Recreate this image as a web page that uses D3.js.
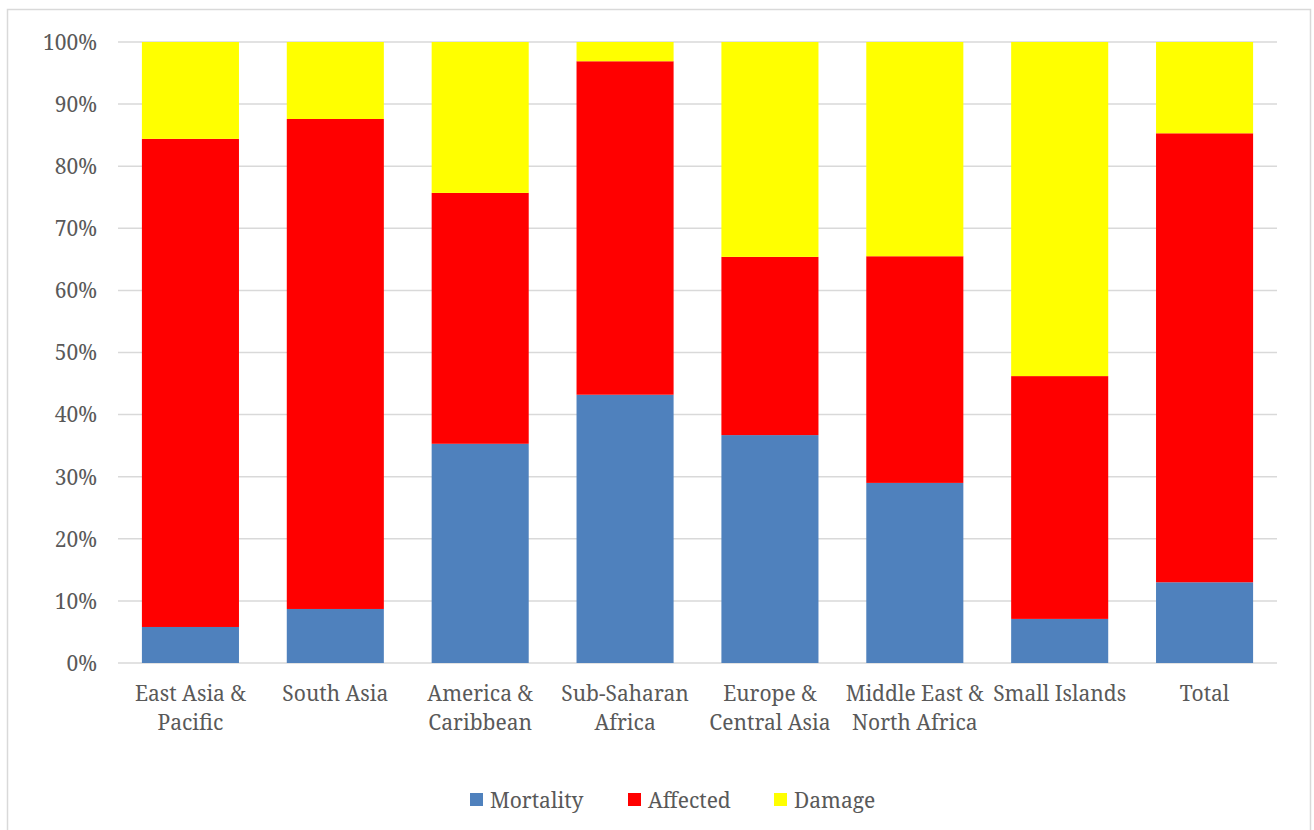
<!DOCTYPE html>
<html><head><meta charset="utf-8">
<script src="https://cdn.jsdelivr.net/npm/d3@7"></script>
<style>html,body{margin:0;padding:0;background:#fff;}</style>
</head>
<body>
<svg id="chart" width="1314" height="830"></svg>
<script>
const categories = [["East Asia &","Pacific"],["South Asia"],["America &","Caribbean"],["Sub-Saharan","Africa"],["Europe &","Central Asia"],["Middle East &","North Africa"],["Small Islands"],["Total"]];
const seriesNames = ["Mortality","Affected","Damage"];
const mortality = [5.8, 8.7, 35.3, 43.2, 36.7, 29.0, 7.1, 13.0];
const affected  = [78.6, 78.9, 40.4, 53.7, 28.7, 36.5, 39.1, 72.3];
const damage    = [15.6, 12.4, 24.3, 3.1, 34.6, 34.5, 53.8, 14.7];
const yTicks = [0,10,20,30,40,50,60,70,80,90,100];
const colors = ["#4f81bd","#ff0000","#ffff00"];
const FONT = "'Noto Serif', serif";
const FS = "21px";
const TXT = "#595959";

const svg = d3.select("#chart");
svg.append("rect").attr("x",7.5).attr("y",9.5).attr("width",1303).attr("height",840)
  .attr("fill","#fff").attr("stroke","#d9d9d9").attr("stroke-width",1.5);

const pLeft=118, pRight=1277, pTop=42, pBottom=663;
const x = d3.scaleBand().domain(d3.range(categories.length)).range([pLeft,pRight]).paddingInner(0.33).paddingOuter(0.165);
const y = d3.scaleLinear().domain([0,100]).range([pBottom,pTop]);

const g = svg.append("g");
g.selectAll("line.grid").data(yTicks).enter().append("line")
  .attr("x1",pLeft).attr("x2",pRight).attr("y1",d=>y(d)).attr("y2",d=>y(d))
  .attr("stroke","#d9d9d9").attr("stroke-width",1.5);

const rows = categories.map((c,i)=>({i, Mortality:mortality[i], Affected:affected[i], Damage:damage[i]}));
const stack = d3.stack().keys(seriesNames)(rows);
g.selectAll("g.series").data(stack).enter().append("g").attr("fill",(d,i)=>colors[i])
  .selectAll("rect").data(d=>d).enter().append("rect")
  .attr("x",d=>x(d.data.i)).attr("width",x.bandwidth())
  .attr("y",d=>y(d[1])).attr("height",d=>y(d[0])-y(d[1]));

const yAxis = d3.axisLeft(y).tickValues(yTicks).tickFormat(d=>d+"%").tickSize(0).tickPadding(21);
const ya = g.append("g").attr("transform",`translate(${pLeft},0)`).call(yAxis);
ya.select(".domain").remove();
ya.attr("font-family",FONT).attr("font-size",FS);
ya.selectAll("text").attr("font-family",FONT).attr("font-size",FS)
  .style("font-size",FS).style("font-family",FONT).attr("fill",TXT).attr("dy","0.35em");

const xa = g.append("g");
categories.forEach((lines,i)=>{
  const cx = x(i)+x.bandwidth()/2;
  const t = xa.append("text").attr("x",cx).attr("y",701)
    .attr("text-anchor","middle").style("font-size",FS).style("font-family",FONT).attr("fill",TXT);
  lines.forEach((l,j)=>t.append("tspan").attr("x",cx).attr("dy",j?29:0).text(l));
});

const legendX = [470,628,774];
const lg = svg.append("g");
seriesNames.forEach((s,i)=>{
  lg.append("rect").attr("x",legendX[i]).attr("y",793).attr("width",13).attr("height",13).attr("fill",colors[i]);
  lg.append("text").attr("x",legendX[i]+20).attr("y",808).style("font-size",FS).style("font-family",FONT).attr("fill",TXT).text(s);
});
</script>
</body></html>
